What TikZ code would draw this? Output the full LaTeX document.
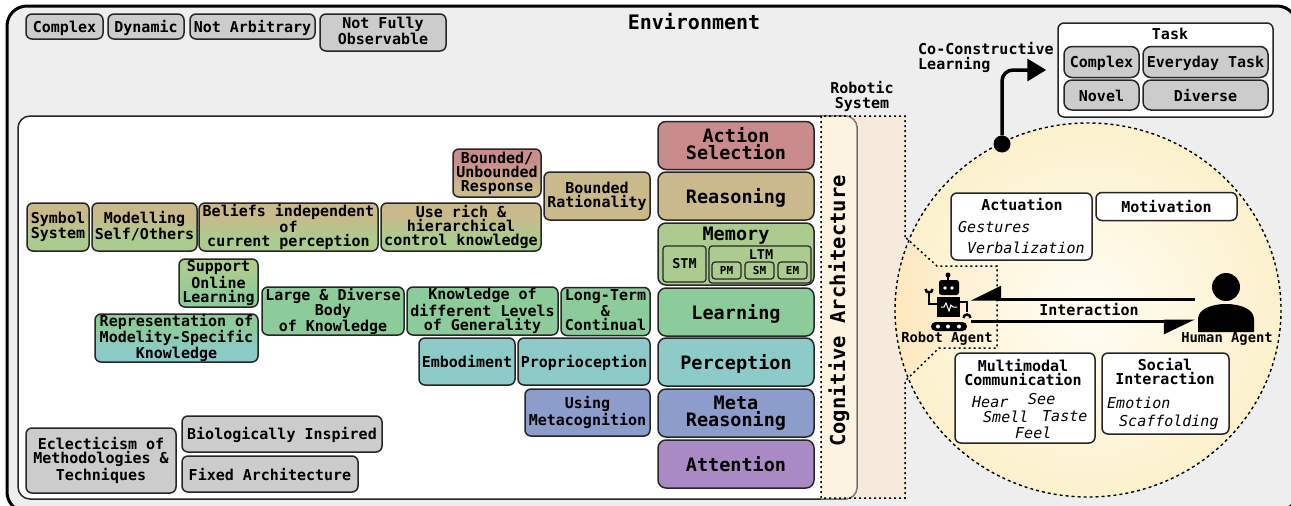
\documentclass[tikz,border=0pt]{standalone}
\usepackage{fontspec}
\setmainfont{DejaVu Sans Mono}[BoldFont={DejaVu Sans Mono Bold}]
\usetikzlibrary{arrows.meta}
\definecolor{envgray}{HTML}{EEEEEE}
\definecolor{boxgray}{HTML}{CCCCCC}
\definecolor{colaction}{HTML}{C98B8B}
\definecolor{colreason}{HTML}{C9B98B}
\definecolor{colmemory}{HTML}{ABCC8E}
\definecolor{collearn}{HTML}{8CCB9A}
\definecolor{colpercept}{HTML}{8CCBC8}
\definecolor{colmeta}{HTML}{8C9CCB}
\definecolor{colattn}{HTML}{AA8AC4}
\definecolor{colsystem}{HTML}{F5EADB}
\definecolor{colcog}{HTML}{FDF3E1}
\definecolor{colcentre}{HTML}{FFFDF4}
\definecolor{coledge}{HTML}{FCF1CC}
\definecolor{colcall}{HTML}{FDE8BE}
\pgfdeclareverticalshading{gradredtan}{100bp}{color(0bp)=(colreason); color(37bp)=(colreason); color(62bp)=(colaction); color(100bp)=(colaction)}
\pgfdeclareverticalshading{gradtangreen}{100bp}{color(0bp)=(colmemory); color(37bp)=(colmemory); color(62bp)=(colreason); color(100bp)=(colreason)}
\pgfdeclareverticalshading{gradgreenlearn}{100bp}{color(0bp)=(collearn); color(37bp)=(collearn); color(62bp)=(colmemory); color(100bp)=(colmemory)}
\pgfdeclareverticalshading{gradlearnpercept}{100bp}{color(0bp)=(colpercept); color(37bp)=(colpercept); color(62bp)=(collearn); color(100bp)=(collearn)}
\tikzset{
	node_box/.style = {
		draw=black!85,
		line width=1.5pt,
		rounded corners=6pt,
		inner sep=0pt,
		align=center,
		font=\fontsize{15}{14}\selectfont\bfseries,
		execute at begin node=\rule{0pt}{1em},
		execute at end node=\rule[-.2em]{0pt}{.2em}
	},
	node_lines/.style = {
		execute at begin node=\rule{0pt}{1.15em}
	},
	node_gray/.style = {
		node_box,
		fill=boxgray
	},
	node_white/.style = {
		node_box,
		fill=white
	},
	node_big/.style = {
		node_box,
		rounded corners=8pt,
		minimum width=156pt,
		minimum height=48pt,
		font=\fontsize{18.5}{17.5}\selectfont\bfseries
	},
	node_mem/.style = {
		draw=black!85,
		line width=1.2pt,
		rounded corners=3pt,
		inner sep=0pt,
		font=\fontsize{11}{11}\selectfont\bfseries
	},
	node_label/.style = {
		inner sep=0pt,
		align=center,
		font=\fontsize{15}{15}\selectfont\bfseries
	},
	node_item/.style = {
		inner sep=0pt,
		anchor=west,
		font=\fontsize{15}{15}\selectfont\itshape
	},
	node_agent/.style = {
		inner sep=0pt,
		font=\fontsize{13.8}{14}\selectfont\bfseries
	},
	line_dots/.style = {
		line width=1.5pt,
		dash pattern=on 2pt off 3pt
	},
}
\begin{document}
\begin{tikzpicture}[x=1pt,y=-1pt]
\clip (0,0) rectangle (1291,506);
\fill[white] (0,0) rectangle (1291,506);
% environment and robotic system
\draw[line width=3pt,rounded corners=20pt,fill=envgray] (7,6) rectangle (1297,512);
\fill[colsystem] (821,116) rectangle (905,498);
\draw[line width=1.5pt,draw=black!85,fill=white,rounded corners=12pt] (18,116) rectangle (857,499);
\draw[line width=1.2pt,draw=black!50,fill=colcog] (821,116) [rounded corners=12pt] -- (857,116) -- (857,499) [sharp corners] -- (821,499);
% interaction circle
\shade[inner color=colcentre,outer color=coledge] (1088,310) ellipse [x radius=193,y radius=187];
\begin{scope}
\clip (1088,310) ellipse [x radius=193,y radius=187];
\shade[left color=colcall,right color=colcall!40!colcentre] (895,230) -- (937,266) -- (997,266) -- (997,348) -- (939,348) -- (895,385) -- cycle;
\end{scope}
\draw[line width=1.4pt,dash pattern=on 3pt off 3pt] (1088,310) ellipse [x radius=193,y radius=187];
\draw[line_dots] (905,237) -- (905,116) -- (821,116) -- (821,498) -- (905,498) -- (905,381) -- (939,348) -- (997,348) -- (997,266) -- (937,266) -- cycle;

\node[font=\fontsize{20}{20}\selectfont\bfseries,inner sep=0pt] (envtitle) at (694,22) {Environment};
\node[node_gray,minimum width=77pt,minimum height=25pt] (envcomplex) at (64.5,26.5) {Complex};
\node[node_gray,minimum width=76pt,minimum height=25pt] (envdynamic) at (146,26.5) {Dynamic};
\node[node_gray,minimum width=125pt,minimum height=25pt] (envarbitrary) at (252.5,26.5) {Not Arbitrary};
\node[node_gray,node_lines,minimum width=126pt,minimum height=37pt] (envobserve) at (383,32.5) {Not Fully\\Observable};
\node[node_label] (robsystem) at (862,96) {Robotic\\System};
\node[font=\fontsize{20.5}{20}\selectfont\bfseries,inner sep=0pt,rotate=90] (cogarch) at (839,311) {Cognitive Architecture};

% cognitive functions
\node[node_big,node_lines,fill=colaction] (action) at (736,145.5) {Action\\Selection};
\node[node_big,fill=colreason] (reasoning) at (736,196) {Reasoning};
\node[node_big,fill=colmemory,minimum height=62pt,execute at begin node={},execute at end node={},text depth=40pt,text height=12pt] (memory) at (736,254) {Memory};
\node[node_mem,minimum width=43pt,minimum height=36pt,font=\fontsize{13.5}{14}\selectfont\bfseries] (stm) at (684.5,264) {STM};
\node[node_mem,minimum width=102pt,minimum height=37pt] (ltm) at (760,264.5) {};
\node[inner sep=0pt,font=\fontsize{13.5}{14}\selectfont\bfseries] (ltmtitle) at (761,254.5) {LTM};
\node[node_mem,minimum width=29pt,minimum height=17pt] (pm) at (726.5,270.5) {PM};
\node[node_mem,minimum width=29pt,minimum height=17pt] (sm) at (759.5,270.5) {SM};
\node[node_mem,minimum width=29pt,minimum height=17pt] (em) at (792.5,270.5) {EM};
\node[node_big,fill=collearn] (learning) at (736,312) {Learning};
\node[node_big,fill=colpercept] (perception) at (736,362) {Perception};
\node[node_big,node_lines,fill=colmeta] (metareason) at (736,413) {Meta\\Reasoning};
\node[node_big,fill=colattn] (attention) at (736,464) {Attention};

% requirements
\node[node_box,node_lines,shade,shading=gradredtan,minimum width=88pt,minimum height=48pt] (bounded) at (497,173) {Bounded/\\Unbounded\\Response};
\node[node_box,node_lines,fill=colreason,minimum width=106pt,minimum height=48pt] (rational) at (597,196) {Bounded\\Rationality};
\node[node_box,node_lines,shade,shading=gradtangreen,minimum width=160pt,minimum height=48pt] (richknow) at (461,227) {Use rich \&\\hierarchical\\control knowledge};
\node[node_box,node_lines,shade,shading=gradtangreen,minimum width=179pt,minimum height=48pt] (beliefs) at (288.5,227) {Beliefs independent\\of\\current perception};
\node[node_box,node_lines,shade,shading=gradtangreen,minimum width=105pt,minimum height=48pt] (modelling) at (144.5,227) {Modelling\\Self/Others};
\node[node_box,node_lines,shade,shading=gradtangreen,minimum width=62pt,minimum height=48pt] (symbol) at (58,227) {Symbol\\System};
\node[node_box,node_lines,shade,shading=gradgreenlearn,minimum width=79pt,minimum height=48pt] (online) at (218.5,283) {Support\\Online\\Learning};
\node[node_box,node_lines,fill=collearn,minimum width=142pt,minimum height=48pt] (diverse) at (333,311) {Large \& Diverse\\Body\\of Knowledge};
\node[node_box,node_lines,fill=collearn,minimum width=151pt,minimum height=48pt] (generality) at (482.5,311) {Knowledge of\\different Levels\\of Generality};
\node[node_box,node_lines,fill=collearn,minimum width=89pt,minimum height=48pt] (longterm) at (605.5,311.5) {Long-Term\\\&\\Continual};
\node[node_box,node_lines,shade,shading=gradlearnpercept,minimum width=163pt,minimum height=48pt] (modality) at (176.5,338) {Representation of\\Modelity-Specific\\Knowledge};
\node[node_box,fill=colpercept,minimum width=96pt,minimum height=47pt] (embodiment) at (467,361.5) {Embodiment};
\node[node_box,fill=colpercept,minimum width=132pt,minimum height=47pt] (propriocept) at (584,361.5) {Proprioception};
\node[node_box,node_lines,fill=colmeta,minimum width=125pt,minimum height=47pt] (metacog) at (587.5,412.5) {Using\\Metacognition};
\node[node_gray,node_lines,minimum width=150pt,minimum height=65pt] (eclectic) at (101,460.5) {Eclecticism of\\Methodologies \&\\Techniques};
\node[node_gray,minimum width=200pt,minimum height=36pt] (biological) at (282,434) {Biologically Inspired};
\node[node_gray,minimum width=176pt,minimum height=36pt] (fixedarch) at (270,474) {Fixed Architecture};

% task
\node[node_white,minimum width=215pt,minimum height=94pt] (taskbox) at (1165.5,70) {};
\node[node_label] (tasktitle) at (1170,34) {Task};
\node[node_gray,rounded corners=8pt,minimum width=75pt,minimum height=31pt] (taskcomplex) at (1101.5,62) {Complex};
\node[node_gray,rounded corners=8pt,minimum width=125pt,minimum height=31pt] (taskevery) at (1205.5,62) {Everyday Task};
\node[node_gray,rounded corners=8pt,minimum width=75pt,minimum height=30pt] (tasknovel) at (1101.5,95) {Novel};
\node[node_gray,rounded corners=8pt,minimum width=125pt,minimum height=30pt] (taskdiverse) at (1205.5,95) {Diverse};
\node[node_label,anchor=west,align=left,font=\fontsize{15}{14.5}\selectfont\bfseries] (colearn) at (918,57.5) {Co-Constructive\\Learning};
\node[circle,fill=black,inner sep=0pt,minimum size=17pt] (learndot) at (1002,144) {};
\draw[line width=3.5pt,rounded corners=11pt,-{Triangle[length=19pt,width=22pt]},shorten >=11pt] (learndot) |- (taskbox.west);

% capabilities
\node[node_white,minimum width=141pt,minimum height=67pt] (actuation) at (1021.5,226.5) {};
\node[node_label] (actutitle) at (1022,205) {Actuation};
\node[node_item] (gestures) at (958,227) {Gestures};
\node[node_item] (verbal) at (967,248) {Verbalization};
\node[node_white,minimum width=141pt,minimum height=28pt] (motivation) at (1166.5,206.5) {Motivation};
\node[node_white,minimum width=140pt,minimum height=90pt] (multimodal) at (1025,398) {};
\node[node_label,font=\fontsize{15}{14}\selectfont\bfseries] (multititle) at (1023,373) {Multimodal\\Communication};
\node[node_item] (hear) at (972,402) {Hear};
\node[node_item] (see) at (1028,399) {See};
\node[node_item] (smell) at (983,417) {Smell};
\node[node_item] (taste) at (1042,416) {Taste};
\node[node_item] (feel) at (1015,433) {Feel};
\node[node_white,minimum width=127pt,minimum height=81pt] (social) at (1165.5,393.5) {};
\node[node_label,font=\fontsize{15}{14}\selectfont\bfseries] (socialtitle) at (1165,372) {Social\\Interaction};
\node[node_item] (emotion) at (1107,403) {Emotion};
\node[node_item] (scaffold) at (1119,422) {Scaffolding};

% robot agent
\node[node_agent] (robotname) at (947,339) {Robot Agent};
\fill (939,280) [rounded corners=2.5pt] rectangle (959,295);
\draw[line width=1.2pt] (948,275) -- (948,280);
\fill (948,275) circle (2.5);
\fill[white] (945,288) circle (1.8) (952,288) circle (1.8);
\fill (937,297) rectangle (960,317);
\draw[white,line width=1pt] (941,307) -- (944,307) -- (946,303) -- (949,311) -- (951,305) -- (953,307) -- (957,307);
\draw[line width=2.5pt] (937,304) -- (929,304) -- (929,292);
\draw[line width=2.5pt] (925.5,289) arc [start angle=180,end angle=0,radius=3.5];
\draw[line width=2.5pt] (960,302) -- (967,302) -- (967,312);
\draw[line width=2.5pt] (963.5,318) arc [start angle=180,end angle=360,radius=3.5];
\fill (931,322) [rounded corners=4.5pt] rectangle (967,331);
\fill[white] (938,326.5) circle (2) (948,326.5) circle (2) (959,326.5) circle (2);

% human agent
\node[node_agent] (humanname) at (1227,339) {Human Agent};
\fill (1226,287) circle (14);
\fill (1198,332) -- (1198,319) .. controls (1198,309) and (1212,304) .. (1226,304) .. controls (1240,304) and (1254,309) .. (1254,319) -- (1254,332) -- cycle;

% interaction
\coordinate (robotin) at (971,299);
\coordinate (robotout) at (971,321);
\coordinate (humanout) at (1195,299);
\coordinate (humanin) at (1195,321);
\node[node_label] (interaction) at (1089,310) {Interaction};
\draw[line width=3pt,-{Triangle[harpoon,swap,length=27pt,width=26pt]}] (humanout) -- (robotin);
\draw[line width=3pt,-{Triangle[harpoon,swap,length=28pt,width=26pt]}] (robotout) -- (humanin);
\end{tikzpicture}
\end{document}
